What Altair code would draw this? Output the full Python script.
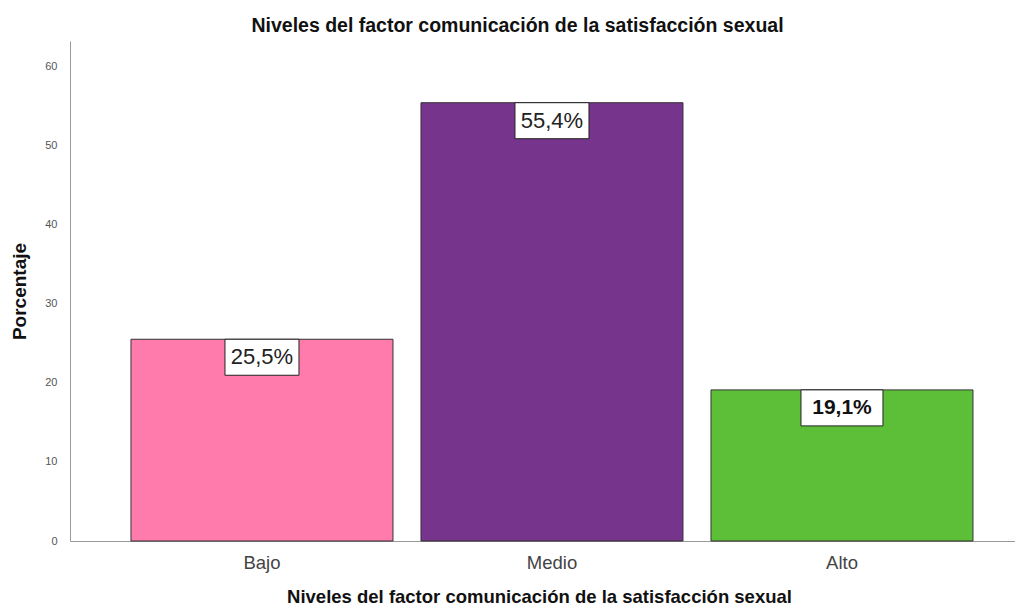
import altair as alt
import pandas as pd

categories = ["Bajo", "Medio", "Alto"]
values = [25.5, 55.4, 19.1]
labels = ["25,5%", "55,4%", "19,1%"]
colors = ["#FF7BAC", "#76348C", "#5CBF37"]
weights = ["normal", "normal", "bold"]

df = pd.DataFrame({"cat": categories, "val": values, "lab": labels, "w": weights})

x = alt.X("cat:N", sort=categories,
          scale=alt.Scale(paddingInner=0.0966, paddingOuter=0.1776, align=0.592),
          axis=alt.Axis(title="Niveles del factor comunicación de la satisfacción sexual",
                        labelAngle=0, ticks=False, labelFontSize=18.5, labelColor="#444444",
                        labelPadding=12, labelFont="Liberation Sans",
                        titleFont="Liberation Sans", titleFontSize=18.5, titleFontWeight="bold",
                        titleColor="#111111", titleBaseline="alphabetic", titleY=61,
                        titleX=469, domainColor="#999999"))
y = alt.Y("val:Q", scale=alt.Scale(domain=[0, 63.2], nice=False),
          axis=alt.Axis(title="Porcentaje", values=[0, 10, 20, 30, 40, 50, 60],
                        grid=False, ticks=False, labelFontSize=11, labelColor="#555555",
                        labelPadding=13, labelFont="Liberation Sans",
                        titleFont="Liberation Sans", titleFontSize=19, titleFontWeight="bold",
                        titleColor="#111111", titleX=-41, domainColor="#999999"))

bars = alt.Chart(df).mark_bar(stroke="#333333", strokeWidth=1).encode(
    x=x, y=y,
    color=alt.Color("cat:N", scale=alt.Scale(domain=categories, range=colors), legend=None),
)

base_n = alt.Chart(df).transform_filter(alt.datum.w == "normal")
base_b = alt.Chart(df).transform_filter(alt.datum.w == "bold")

box_n = base_n.mark_bar(width=74, fill="white", stroke="#222222", strokeWidth=1,
                        y2Offset=36).encode(
    x=alt.X("cat:N", sort=categories), y="val:Q", y2="val:Q")
box_b = base_b.mark_bar(width=82, fill="white", stroke="#222222", strokeWidth=1,
                        y2Offset=36).encode(
    x=alt.X("cat:N", sort=categories), y="val:Q", y2="val:Q")

txt_n = base_n.mark_text(
    font="Liberation Sans", fontSize=22, fontWeight="normal", color="#222222",
    baseline="middle", dy=18).encode(
    x=alt.X("cat:N", sort=categories), y="val:Q", text="lab:N")

txt_b = base_b.mark_text(
    font="Liberation Sans", fontSize=21, fontWeight="bold", color="#111111",
    baseline="middle", dy=18).encode(
    x=alt.X("cat:N", sort=categories), y="val:Q", text="lab:N")

chart = alt.layer(bars, box_n, box_b, txt_n, txt_b).properties(
    width=945, height=500,
    autosize=alt.AutoSizeParams(type="none"),
    padding={"left": 62, "top": 33, "right": 0, "bottom": 67},
    title=alt.TitleParams("Niveles del factor comunicación de la satisfacción sexual",
                          font="Liberation Sans", fontSize=19.5, fontWeight="bold",
                          color="#111111", anchor="middle", dx=-25, offset=5),
).configure_view(stroke=None)

chart.save("out.html", embed_options={"renderer": "svg", "actions": False})
